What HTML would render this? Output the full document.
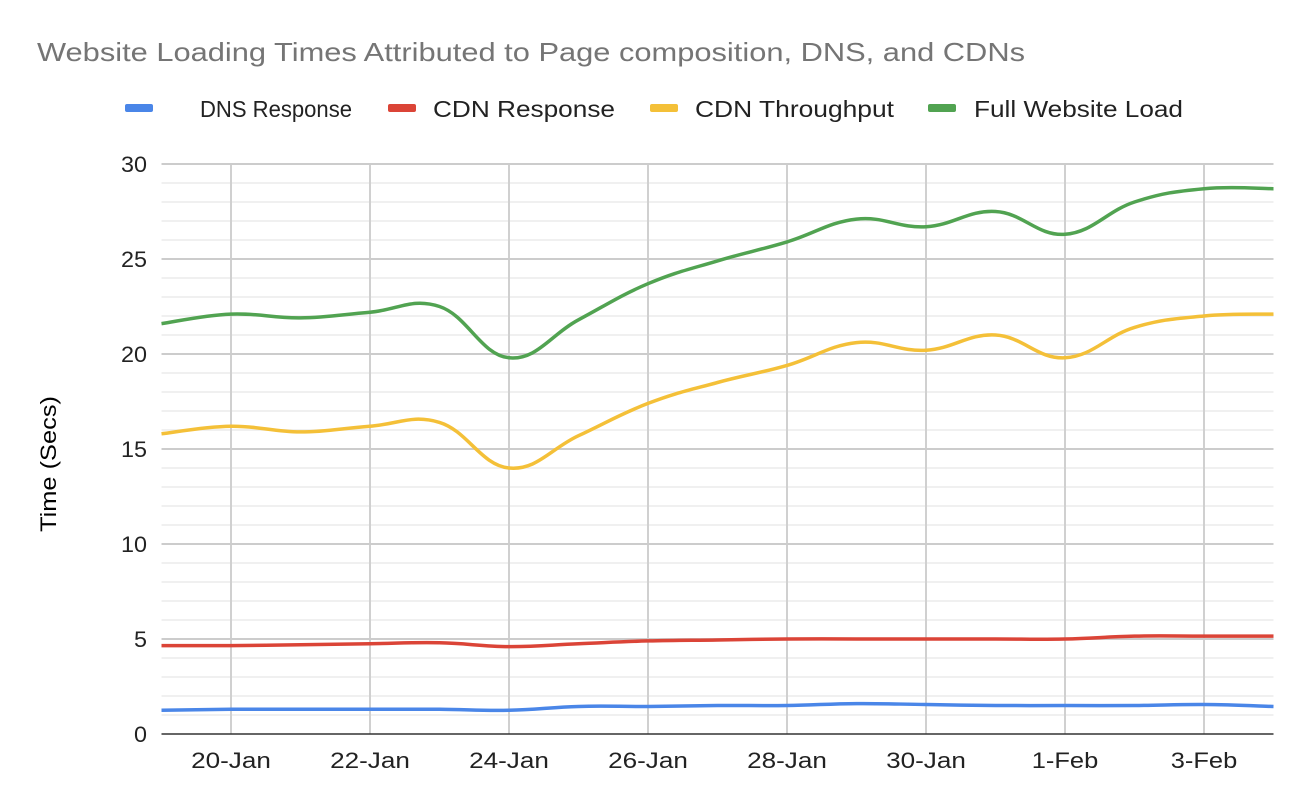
<!DOCTYPE html>
<html><head><meta charset="utf-8"><style>
body{margin:0;background:#fff;font-family:"Liberation Sans",Arial,sans-serif}
</style></head><body>
<svg id="chart" width="1306" height="800" xmlns="http://www.w3.org/2000/svg">
<text x="37" y="61" font-size="26" fill="#757575" textLength="988" lengthAdjust="spacingAndGlyphs">Website Loading Times Attributed to Page composition, DNS, and CDNs</text>
<g id="legend"></g>
<g id="grid"></g>
<g id="axes"></g>
<g id="series"></g>
<text transform="translate(56,464) rotate(-90)" text-anchor="middle" font-size="22" fill="#000" textLength="136" lengthAdjust="spacingAndGlyphs">Time (Secs)</text>
</svg>
<script>
const categories=["19-Jan","20-Jan","21-Jan","22-Jan","23-Jan","24-Jan","25-Jan","26-Jan","27-Jan","28-Jan","29-Jan","30-Jan","31-Jan","1-Feb","2-Feb","3-Feb","4-Feb"];
const dnsResponse=[1.25,1.3,1.3,1.3,1.3,1.25,1.45,1.45,1.5,1.5,1.6,1.55,1.5,1.5,1.5,1.55,1.45];
const cdnResponse=[4.65,4.65,4.7,4.75,4.8,4.6,4.75,4.9,4.95,5.0,5.0,5.0,5.0,5.0,5.15,5.15,5.15];
const cdnThroughput=[15.8,16.2,15.9,16.2,16.4,14.0,15.7,17.4,18.5,19.4,20.6,20.2,21.0,19.8,21.4,22.0,22.1];
const fullLoad=[21.6,22.1,21.9,22.2,22.5,19.8,21.8,23.7,24.9,25.9,27.1,26.7,27.5,26.3,28.0,28.7,28.7];
const yTicks=[0,5,10,15,20,25,30];
const seriesNames=["DNS Response","CDN Response","CDN Throughput","Full Website Load"];
const colors=["#4a86e8","#db4437","#f4c038","#51a351"];
const NS="http://www.w3.org/2000/svg";
const X0=161.5,X1=1273.5,Y0=734,Y1=164,YMAX=30;
const x=i=>X0+(X1-X0)*i/(categories.length-1);
const y=v=>Y0-(Y0-Y1)*v/YMAX;
function mk(tag,attrs,parent){const e=document.createElementNS(NS,tag);for(const k in attrs)e.setAttribute(k,attrs[k]);parent.appendChild(e);return e;}
const grid=document.getElementById('grid'),axes=document.getElementById('axes'),ser=document.getElementById('series'),leg=document.getElementById('legend');
for(let v=1;v<YMAX;v++){if(v%5===0)continue;const l=mk('line',{x1:X0,x2:X1,y1:y(v),y2:y(v),stroke:'#ececec','stroke-width':1.5},grid);

}
categories.forEach((c,i)=>{if(i%2===1){const l=mk('line',{x1:x(i),x2:x(i),y1:Y1,y2:Y0,stroke:'#d0d0d0','stroke-width':2},grid);


const t=mk('text',{x:x(i),y:768,'text-anchor':'middle','font-size':22,fill:'#222',textLength:c.length*13.3,lengthAdjust:'spacingAndGlyphs'},axes);t.textContent=c;

}});
yTicks.forEach(v=>{const l=mk('line',{x1:X0,x2:X1,y1:y(v),y2:y(v),stroke:v===0?'#333':'#cccccc','stroke-width':v===0?1.5:2},grid);


const s=String(v);
const t=mk('text',{x:147,y:y(v)+8,'text-anchor':'end','font-size':22,fill:'#222',textLength:s.length*13,lengthAdjust:'spacingAndGlyphs'},axes);t.textContent=s;

});
function path(vals){const p=vals.map((v,i)=>[x(i),y(v)]);let d=`M${p[0][0]},${p[0][1]}`;
for(let i=0;i<p.length-1;i++){const p0=p[i-1]||p[i],p1=p[i],p2=p[i+1],p3=p[i+2]||p2;const t=0.2;
d+=` C${p1[0]+(p2[0]-p0[0])*t},${p1[1]+(p2[1]-p0[1])*t} ${p2[0]-(p3[0]-p1[0])*t},${p2[1]-(p3[1]-p1[1])*t} ${p2[0]},${p2[1]}`;}return d;}
[dnsResponse,cdnResponse,cdnThroughput,fullLoad].forEach((vals,k)=>{const e=mk('path',{d:path(vals),fill:'none',stroke:colors[k],'stroke-width':3.5,'stroke-linejoin':'round'},ser);

});
const lx=[125,388,650,928];
const tx=[200,433,695,974];
const tw=[152,182,199,209];
seriesNames.forEach((n,k)=>{const g=mk('g',{},leg);


mk('rect',{x:lx[k],y:104,width:28,height:8,rx:2,fill:colors[k]},g);
const t=mk('text',{x:tx[k],y:117,'font-size':23,fill:'#222',textLength:tw[k],lengthAdjust:'spacingAndGlyphs'},g);t.textContent=n;});
</script>
</body></html>
